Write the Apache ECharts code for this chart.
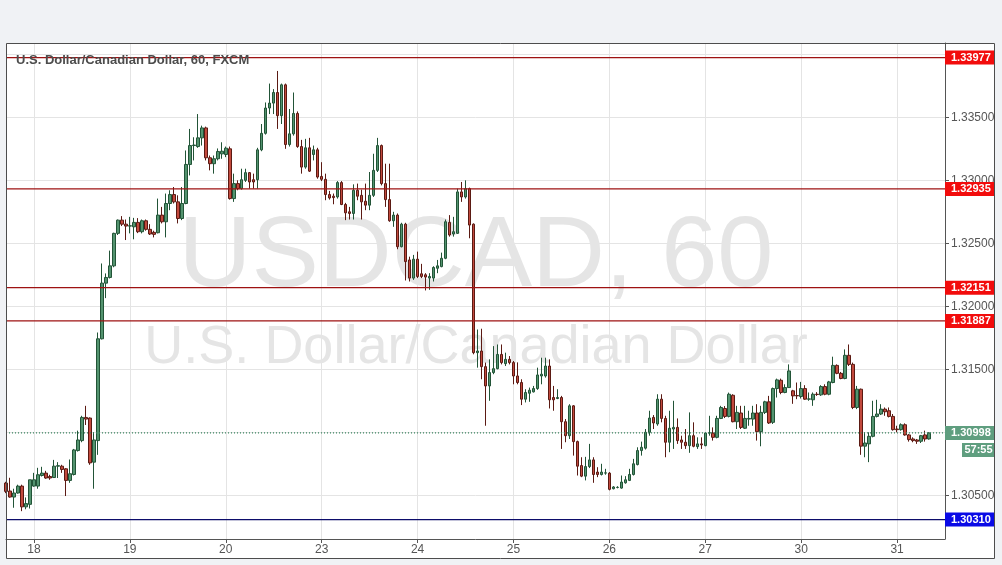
<!DOCTYPE html>
<html><head><meta charset="utf-8">
<script src="https://cdn.jsdelivr.net/npm/echarts@6/dist/echarts.min.js"></script>
<style>html,body{margin:0;padding:0;background:#f0f2f5;}#c{width:1002px;height:565px;}</style>
</head><body><div id="c"></div>
<script>
// ---- data ----
const dayLabels = ['18','19','20','23','24','25','26','27','30','31'];
const dayIndex  = [7,31,55,79,103,127,151,175,199,223];
const totalSlots = 236;

const opens = [
1.30600,1.30537,1.30489,1.30521,1.30576,1.30411,1.30431,1.30576,1.30576,1.30660,
1.30679,1.30652,1.30644,1.30734,1.30734,1.30713,1.30621,1.30668,1.30858,1.30937,
1.31121,1.31116,1.30766,1.30937,1.31745,1.32187,1.32232,1.32324,1.32582,1.32687,
1.32655,1.32640,1.32634,1.32669,1.32595,1.32682,1.32614,1.32590,1.32587,1.32727,
1.32674,1.32819,1.32890,1.32832,1.32700,1.32819,1.33129,1.33279,1.33271,1.33340,
1.33419,1.33182,1.33135,1.33174,1.33213,1.33208,1.33253,1.32858,1.32977,1.32937,
1.33003,1.33064,1.33008,1.33008,1.33245,1.33376,1.33577,1.33616,1.33700,1.33516,
1.33761,1.33287,1.33372,1.33534,1.33271,1.33108,1.33261,1.33208,1.33245,1.33034,
1.33011,1.32890,1.32877,1.32871,1.32985,1.32811,1.32753,1.32740,1.32924,1.32884,
1.32837,1.32806,1.32884,1.33082,1.33279,1.32977,1.32850,1.32682,1.32727,1.32476,
1.32655,1.32371,1.32227,1.32377,1.32261,1.32253,1.32227,1.32227,1.32305,1.32318,
1.32384,1.32669,1.32577,1.32582,1.32911,1.32871,1.32937,1.32655,1.31635,1.31648,
1.31524,1.31371,1.31477,1.31508,1.31621,1.31548,1.31582,1.31556,1.31450,1.31398,
1.31266,1.31313,1.31324,1.31350,1.31450,1.31450,1.31529,1.31279,1.31271,1.31279,
1.31087,1.30976,1.31213,1.30929,1.30739,1.30655,1.30731,1.30784,1.30687,1.30668,
1.30679,1.30679,1.30555,1.30565,1.30560,1.30602,1.30621,1.30668,1.30747,1.30858,
1.30877,1.31003,1.31121,1.31069,1.31266,1.31113,1.30924,1.31029,1.31042,1.30942,
1.30924,1.30897,1.30976,1.30889,1.30911,1.30897,1.30997,1.30997,1.30963,1.31113,
1.31192,1.31129,1.31297,1.31087,1.31156,1.31035,1.31108,1.31108,1.31156,1.31008,
1.31161,1.31245,1.31082,1.31350,1.31416,1.31319,1.31358,1.31332,1.31295,1.31287,
1.31350,1.31266,1.31261,1.31305,1.31300,1.31366,1.31305,1.31398,1.31534,1.31471,
1.31430,1.31614,1.31542,1.31200,1.31345,1.30893,1.30911,1.30971,1.31129,1.31148,
1.31187,1.31174,1.31129,1.31029,1.31024,1.31063,1.30982,1.30950,1.30942,1.30932,
1.30982,1.30950];
const closes = [
1.30534,1.30489,1.30521,1.30576,1.30411,1.30437,1.30626,1.30626,1.30666,1.30679,
1.30640,1.30640,1.30734,1.30738,1.30708,1.30621,1.30674,1.30863,1.30942,1.31121,
1.31108,1.30760,1.30942,1.31745,1.32187,1.32232,1.32324,1.32582,1.32687,1.32655,
1.32640,1.32642,1.32669,1.32595,1.32682,1.32614,1.32577,1.32574,1.32727,1.32674,
1.32819,1.32890,1.32832,1.32700,1.32819,1.33129,1.33279,1.33283,1.33340,1.33419,
1.33182,1.33135,1.33174,1.33232,1.33234,1.33258,1.32858,1.32977,1.32937,1.33008,
1.33064,1.32990,1.32990,1.33245,1.33376,1.33577,1.33616,1.33700,1.33516,1.33761,
1.33287,1.33372,1.33534,1.33271,1.33108,1.33261,1.33076,1.33245,1.33029,1.33011,
1.32890,1.32863,1.32866,1.32985,1.32811,1.32745,1.32740,1.32924,1.32877,1.32832,
1.32806,1.32884,1.33082,1.33279,1.32977,1.32850,1.32682,1.32727,1.32476,1.32655,
1.32358,1.32227,1.32377,1.32240,1.32240,1.32235,1.32240,1.32311,1.32324,1.32384,
1.32674,1.32569,1.32595,1.32911,1.32871,1.32937,1.32648,1.31635,1.31648,1.31524,
1.31371,1.31477,1.31508,1.31621,1.31556,1.31582,1.31556,1.31450,1.31398,1.31266,
1.31319,1.31337,1.31350,1.31458,1.31464,1.31529,1.31261,1.31261,1.31279,1.31087,
1.30976,1.31213,1.30929,1.30734,1.30655,1.30731,1.30784,1.30668,1.30668,1.30687,
1.30681,1.30550,1.30569,1.30566,1.30608,1.30626,1.30668,1.30753,1.30858,1.30884,
1.31003,1.31116,1.31077,1.31266,1.31113,1.30924,1.31035,1.31042,1.30937,1.30924,
1.30897,1.30976,1.30892,1.30911,1.30903,1.30997,1.30999,1.30963,1.31113,1.31200,
1.31129,1.31305,1.31087,1.31161,1.31042,1.31113,1.31113,1.31156,1.31008,1.31161,
1.31245,1.31077,1.31350,1.31419,1.31319,1.31358,1.31490,1.31292,1.31292,1.31350,
1.31266,1.31268,1.31305,1.31303,1.31366,1.31305,1.31403,1.31534,1.31471,1.31430,
1.31614,1.31542,1.31200,1.31345,1.30893,1.30918,1.30971,1.31129,1.31148,1.31187,
1.31166,1.31129,1.31024,1.31024,1.31063,1.30982,1.30945,1.30937,1.30932,1.30976,
1.30950,1.30998];
const lows = [
1.30520,1.30484,1.30404,1.30516,1.30377,1.30392,1.30398,1.30571,1.30555,1.30652,
1.30634,1.30626,1.30640,1.30640,1.30681,1.30497,1.30602,1.30660,1.30850,1.30924,
1.31061,1.30745,1.30555,1.30824,1.31740,1.32068,1.32224,1.32313,1.32569,1.32640,
1.32529,1.32582,1.32535,1.32584,1.32582,1.32603,1.32569,1.32550,1.32582,1.32661,
1.32550,1.32766,1.32819,1.32661,1.32687,1.32813,1.33042,1.33161,1.33261,1.33279,
1.33161,1.33082,1.33056,1.33161,1.33174,1.33187,1.32850,1.32832,1.32924,1.32929,
1.32990,1.32937,1.32937,1.32937,1.33234,1.33366,1.33529,1.33529,1.33411,1.33450,
1.33253,1.33271,1.33358,1.33261,1.33056,1.33095,1.33069,1.33161,1.33016,1.32997,
1.32845,1.32850,1.32813,1.32858,1.32806,1.32687,1.32692,1.32692,1.32845,1.32692,
1.32766,1.32766,1.32871,1.33069,1.32963,1.32792,1.32674,1.32634,1.32456,1.32471,
1.32208,1.32200,1.32213,1.32227,1.32227,1.32129,1.32134,1.32200,1.32266,1.32313,
1.32377,1.32556,1.32556,1.32577,1.32832,1.32858,1.32543,1.31622,1.31516,1.31424,
1.31055,1.31253,1.31464,1.31503,1.31542,1.31529,1.31542,1.31384,1.31384,1.31219,
1.31240,1.31245,1.31319,1.31340,1.31384,1.31437,1.31192,1.31174,1.31266,1.30871,
1.30924,1.30950,1.30818,1.30660,1.30647,1.30621,1.30719,1.30602,1.30647,1.30660,
1.30666,1.30542,1.30550,1.30558,1.30555,1.30595,1.30616,1.30660,1.30740,1.30818,
1.30866,1.30976,1.31029,1.31055,1.31082,1.30805,1.30845,1.30871,1.30911,1.30871,
1.30871,1.30840,1.30884,1.30871,1.30871,1.30892,1.30976,1.30937,1.30955,1.31108,
1.31116,1.31121,1.31082,1.31029,1.31029,1.31029,1.31055,1.31055,1.30937,1.30892,
1.31148,1.31069,1.31069,1.31279,1.31305,1.31313,1.31358,1.31229,1.31266,1.31271,
1.31261,1.31253,1.31213,1.31292,1.31292,1.31297,1.31297,1.31392,1.31464,1.31424,
1.31424,1.31529,1.31187,1.31187,1.30824,1.30805,1.30766,1.30963,1.31121,1.31140,
1.31134,1.31121,1.31016,1.31003,1.31016,1.30976,1.30929,1.30924,1.30911,1.30918,
1.30929,1.30945];
const highs = [
1.30610,1.30642,1.30555,1.30587,1.30587,1.30486,1.30626,1.30681,1.30721,1.30729,
1.30697,1.30666,1.30784,1.30766,1.30745,1.30719,1.30787,1.30871,1.31016,1.31134,
1.31213,1.31121,1.31003,1.31795,1.32343,1.32264,1.32445,1.32587,1.32692,1.32719,
1.32692,1.32713,1.32705,1.32703,1.32692,1.32692,1.32655,1.32603,1.32858,1.32792,
1.32898,1.32924,1.32950,1.32884,1.32950,1.33240,1.33411,1.33345,1.33529,1.33437,
1.33429,1.33200,1.33200,1.33256,1.33305,1.33271,1.33271,1.33056,1.33003,1.33095,
1.33095,1.33069,1.33056,1.33261,1.33450,1.33621,1.33771,1.33727,1.33871,1.33771,
1.33771,1.33569,1.33700,1.33550,1.33324,1.33332,1.33340,1.33279,1.33261,1.33147,
1.33056,1.32919,1.32898,1.32997,1.32997,1.32824,1.32792,1.32971,1.32977,1.32929,
1.32977,1.33069,1.33214,1.33340,1.33287,1.33135,1.33135,1.32753,1.32740,1.32666,
1.32666,1.32397,1.32411,1.32437,1.32340,1.32266,1.32266,1.32321,1.32371,1.32429,
1.32692,1.32727,1.32713,1.32937,1.32990,1.33003,1.32945,1.32661,1.31819,1.31825,
1.31556,1.31582,1.31687,1.31700,1.31700,1.31635,1.31608,1.31569,1.31558,1.31424,
1.31345,1.31358,1.31371,1.31516,1.31595,1.31595,1.31582,1.31371,1.31345,1.31292,
1.31108,1.31226,1.31219,1.30937,1.30805,1.30808,1.30911,1.30805,1.30726,1.30753,
1.30713,1.30687,1.30576,1.30575,1.30660,1.30655,1.30713,1.30792,1.30884,1.30929,
1.31029,1.31174,1.31140,1.31305,1.31305,1.31134,1.31174,1.31253,1.31113,1.30976,
1.31029,1.31161,1.31082,1.30963,1.30963,1.31003,1.31134,1.31042,1.31134,1.31213,
1.31211,1.31318,1.31305,1.31213,1.31213,1.31213,1.31174,1.31213,1.31226,1.31213,
1.31253,1.31292,1.31358,1.31429,1.31429,1.31384,1.31542,1.31340,1.31398,1.31403,
1.31377,1.31319,1.31319,1.31322,1.31377,1.31384,1.31411,1.31603,1.31542,1.31482,
1.31661,1.31700,1.31556,1.31371,1.31350,1.31003,1.31003,1.31253,1.31261,1.31226,
1.31200,1.31200,1.31148,1.31055,1.31074,1.31074,1.30990,1.30963,1.30950,1.30982,
1.31016,1.31003];

const redLevels = [1.33977, 1.32935, 1.32151, 1.31887];
const blueLevel = 1.30310;
const lastPrice = 1.30998;
const countdown = '57:55';
const titleText = 'U.S. Dollar/Canadian Dollar, 60, FXCM';
const watermark1 = 'USDCAD, 60';
const watermark2 = 'U.S. Dollar/Canadian Dollar';
const yMin = 1.30156, yMax = 1.34093;

// ---- build ----
const cats = [];
for (let i = 0; i < totalSlots; i++) cats.push(String(i));
const labelAt = {};
dayIndex.forEach((d, i) => { labelAt[d] = dayLabels[i]; });
const isDay = (idx) => labelAt[idx] !== undefined;
const candles = opens.map((o, i) => [o, closes[i], lows[i], highs[i]]);

const FONT = 'Liberation Sans, Arial, sans-serif';
function levelSeries(value, color, dash, labelBg) {
  return {
    type: 'line', silent: true, z: 3, animation: false,
    data: [[0, value], [totalSlots - 1, value]],
    showSymbol: false, symbol: 'none',
    lineStyle: {color: color, width: 1.2, type: dash},
    itemStyle: {color: color},
    emphasis: {disabled: true},
    endLabel: {show: true, distance: 0, formatter: () => value.toFixed(5),
      color: '#fff', fontWeight: 'bold', fontSize: 11, fontFamily: FONT, lineHeight: 12,
      backgroundColor: labelBg, padding: [2, 4, 0, 6]}
  };
}

const chart = echarts.init(document.getElementById('c'), null, {renderer: 'canvas'});
const option = {
  animation: false,
  backgroundColor: '#f0f2f5',
  grid: {left: 6, top: 43, width: 939, height: 496, containLabel: false},
  xAxis: {
    type: 'category', data: cats, boundaryGap: false,
    axisLine: {show: true, lineStyle: {color: '#555', width: 1}},
    axisTick: {show: true, length: 4, interval: (i) => isDay(i), lineStyle: {color: '#555'}},
    axisLabel: {interval: (i) => isDay(i), formatter: (v, i) => labelAt[i] || '', color: '#555', fontSize: 12, fontFamily: FONT, margin: 5},
    splitLine: {show: true, interval: (i) => isDay(i), lineStyle: {color: '#e4e4e4', width: 1}}
  },
  yAxis: {
    type: 'value', position: 'right', min: yMin, max: yMax, splitNumber: 8, scale: true,
    axisLine: {show: true, lineStyle: {color: '#555', width: 1}},
    axisTick: {show: true, length: 4, lineStyle: {color: '#555'}},
    axisLabel: {showMinLabel: false, showMaxLabel: false, formatter: v => (v > 1.3398 ? '' : v.toFixed(5)), color: '#555', fontSize: 12, fontFamily: FONT, margin: 6},
    splitLine: {show: true, lineStyle: {color: '#e4e4e4', width: 1}}
  },
  series: [
    {
      type: 'candlestick', data: candles, barWidth: 3,
      itemStyle: {color: '#53936f', color0: '#c2493d', borderColor: '#225437', borderColor0: '#5b1a13', borderWidth: 1},
      emphasis: {disabled: true}
    }
  ].concat(
    redLevels.map(v => levelSeries(v, '#9e1212', 'solid', '#f20c0c')),
    [levelSeries(blueLevel, '#0c0c6a', 'solid', '#0a0ae6'),
     levelSeries(lastPrice, '#3a8560', [1, 2], '#5f9e7f')]
  ),
  graphic: [
    {type: 'rect', z: -10, shape: {x: 6, y: 43, width: 989, height: 515}, style: {fill: '#ffffff'}},
    {type: 'text', z: 1, style: {text: watermark1, x: 476, y: 258, align: 'center', verticalAlign: 'middle', font: '101px ' + FONT, fill: '#e5e5e5'}},
    {type: 'text', z: 1, style: {text: watermark2, x: 476, y: 348, align: 'center', verticalAlign: 'middle', font: '54px ' + FONT, fill: '#e5e5e5'}},
    {type: 'text', z: 20, style: {text: titleText, x: 16, y: 54, verticalAlign: 'top', font: 'bold 13px ' + FONT, fill: '#4d4d4d'}},
    {type: 'rect', z: 30, shape: {x: 6.5, y: 43.5, width: 988, height: 515}, style: {fill: 'none', stroke: '#4d4d4d', lineWidth: 1}}
  ]
};
chart.setOption(option);
const py = chart.convertToPixel({yAxisIndex: 0}, lastPrice);
option.graphic.push({type: 'rect', z: 25, shape: {x: 962, y: Math.round(py) + 10, width: 33, height: 14}, style: {fill: '#5f9e7f'}});
option.graphic.push({type: 'text', z: 26, style: {text: countdown, x: 978.5, y: Math.round(py) + 17, align: 'center', verticalAlign: 'middle', font: 'bold 11px ' + FONT, fill: '#ffffff'}});
chart.setOption({graphic: option.graphic});
</script></body></html>
